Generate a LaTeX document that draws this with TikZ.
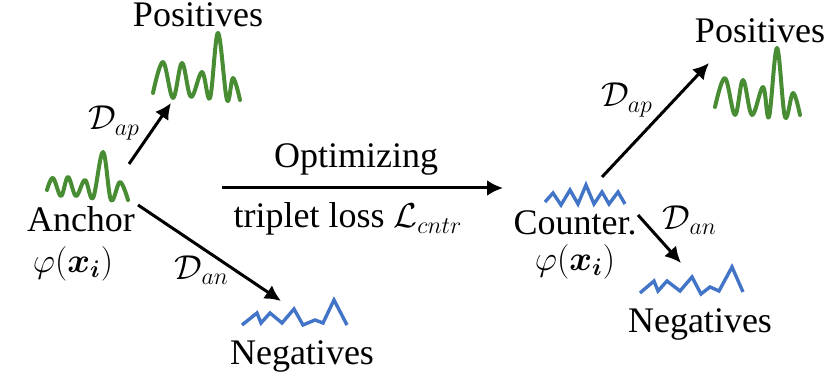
\documentclass[tikz,border=0pt]{standalone}
\usepackage{amsmath}
\usepackage{fontspec}
\setmainfont{Liberation Serif}
\newfontfamily\tnr{Liberation Serif}
\usetikzlibrary{arrows.meta}
\definecolor{wgreen}{RGB}{72,140,52}
\definecolor{wblue}{RGB}{66,116,200}
\tikzset{
  lbl/.style={font=\tnr\fontsize{18}{21}\selectfont, inner sep=0pt},
  arr/.style={line width=1.5pt, -{Latex[length=8pt,width=8pt]}},
  gw/.style={wgreen, line width=2pt, line cap=round, line join=round},
  bw/.style={wblue, line width=1.7pt, line join=miter},
}
\begin{document}
\begin{tikzpicture}[x=0.5pt,y=-0.5pt]
\useasboundingbox (0,0) rectangle (830,378);
% waves
\draw[gw] plot[smooth, tension=0.6] coordinates {(47,190) (53,178) (61,196) (68,177) (76,196) (85,180) (93,198) (103,152) (111,200) (120,182) (128,200)};
\draw[gw] plot[smooth, tension=0.6] coordinates {(153,93) (163,62) (173,98) (182,63) (191,97) (202,72) (210,98) (218,33) (227,100) (233,78) (240,100)};
\draw[gw] plot[smooth, tension=0.6] coordinates {(715,107) (725,78) (735,115) (743,80) (752,115) (763,87) (769,117) (777,48) (785,117) (793,93) (800,115)};
\draw[bw] (242,325)--(257,313)--(261,323)--(270,313)--(282,323)--(294,309)--(303,325)--(315,320)--(323,323)--(334,300)--(347,325);
\draw[bw] (640,293)--(654,281)--(658,291)--(667,281)--(680,291)--(692,277)--(701,294)--(710,287)--(719,291)--(732,267)--(743,292);
\draw[bw] (545,202)--(553,193)--(561,205)--(570,190)--(578,204)--(586,185)--(594,204)--(602,192)--(609,204)--(618,192)--(625,204);
% texts
\node[lbl, anchor=base] (posL) at (198,27) {Positives};
\node[lbl, anchor=base] (posR) at (760,43) {Positives};
\node[lbl, anchor=base] (anc) at (81,232) {Anchor};
\node[lbl] (phiL) at (73,264) {$\varphi(\boldsymbol{x_i})$};
\node[lbl, anchor=base] (negL) at (302,365) {Negatives};
\node[lbl, anchor=base] (opt) at (356,168) {Optimizing};
\node[lbl, anchor=base] (trip) at (348,228) {triplet loss $\mathcal{L}_{cntr}$};
\node[lbl, anchor=base] (cnt) at (575,235) {Counter.};
\node[lbl] (phiR) at (575,262) {$\varphi(\boldsymbol{x_i})$};
\node[lbl, anchor=base] (negR) at (700,333) {Negatives};
\node[lbl] (dapL) at (114,123) {$\mathcal{D}_{ap}$};
\node[lbl] (danL) at (202,270) {$\mathcal{D}_{an}$};
\node[lbl] (dapR) at (627,100) {$\mathcal{D}_{ap}$};
\node[lbl] (danR) at (690,220) {$\mathcal{D}_{an}$};
% arrow ends
\coordinate (a1s) at (129,164); \coordinate (a1e) at (171,103);
\coordinate (a2s) at (138,205); \coordinate (a2e) at (281,301);
\coordinate (a3s) at (222,188); \coordinate (a3e) at (503,188);
\coordinate (a4s) at (602,177); \coordinate (a4e) at (709,63);
\coordinate (a5s) at (638,215); \coordinate (a5e) at (681,263);
\draw[arr] (a1s) -- (a1e);
\draw[arr] (a2s) -- (a2e);
\draw[arr] (a3s) -- (a3e);
\draw[arr] (a4s) -- (a4e);
\draw[arr] (a5s) -- (a5e);
\end{tikzpicture}
\end{document}
